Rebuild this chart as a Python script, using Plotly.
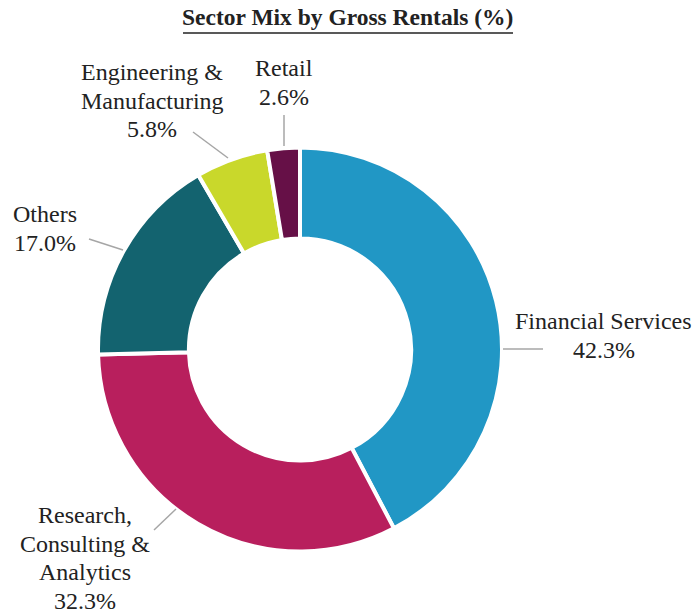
import plotly.graph_objects as go

# ---- data ----
categories = ["Financial Services", "Research, Consulting & Analytics", "Others",
              "Engineering & Manufacturing", "Retail"]
values = [42.3, 32.3, 17.0, 5.8, 2.6]
label_lines = [["Financial Services"], ["Research,", "Consulting &", "Analytics"],
               ["Others"], ["Engineering &", "Manufacturing"], ["Retail"]]
title_text = "Sector Mix by Gross Rentals (%)"

# ---- style / layout ----
colors = ["#2197c5", "#b81f5d", "#13636f", "#c9d82b", "#661047"]
W, H = 695, 613
CX, CY, R = 300, 349.5, 202
HOLE = 0.55
FONT = "Liberation Serif, Times New Roman, serif"
TXT = "#222222"
LINE_GAP = 28.7
# label block: centre x and first-line baseline (pixels)
label_pos = [(603.5, 329), (85, 523), (45, 222), (152, 80), (283.5, 76)]
# leader lines (pixels): label end -> slice end
leader = [((503, 349), (543, 349)), ((154, 530), (176, 509)), ((89, 239), (123, 250)),
          ((193, 132), (228, 158)), ((284, 115), (284, 146))]


def px(x):
    return x / W


def py(y):
    return 1 - y / H


fig = go.Figure(go.Pie(
    labels=categories, values=values, hole=HOLE, sort=False,
    direction="clockwise", rotation=0,
    marker=dict(colors=colors, line=dict(color="white", width=4)),
    textinfo="none", hoverinfo="label+value",
    domain=dict(x=[px(CX - R), px(CX + R)], y=[py(CY + R), py(CY - R)]),
))

annotations = []
for lines, v, (lx, ly) in zip(label_lines, values, label_pos):
    all_lines = lines + [f"{v:.1f}%"]
    for i, t in enumerate(all_lines):
        base = ly + i * LINE_GAP
        annotations.append(dict(
            text=t, x=px(lx), y=py(base - 8), xref="paper", yref="paper",
            xanchor="center", yanchor="middle", showarrow=False,
            font=dict(family=FONT, size=24, color=TXT)))

annotations.append(dict(
    text=f"<b>{title_text}</b>", x=px(348), y=py(25 - 8), xref="paper", yref="paper",
    xanchor="center", yanchor="middle", showarrow=False,
    font=dict(family=FONT, size=23.5, color=TXT)))

shapes = []
for (a, b) in leader:
    shapes.append(dict(type="line", xref="paper", yref="paper",
                       x0=px(a[0]), y0=py(a[1]), x1=px(b[0]), y1=py(b[1]),
                       line=dict(color="#a6a6a6", width=1.5)))
shapes.append(dict(type="line", xref="paper", yref="paper",
                   x0=px(183), y0=py(33), x1=px(513), y1=py(33),
                   line=dict(color=TXT, width=1.5)))

fig.update_layout(
    width=W, height=H, margin=dict(l=0, r=0, t=0, b=0),
    paper_bgcolor="white", plot_bgcolor="white", showlegend=False,
    annotations=annotations, shapes=shapes,
)

fig.write_html("out.html", config={"displayModeBar": False},
               post_script="document.body.style.margin='0';document.body.style.overflow='hidden';")
